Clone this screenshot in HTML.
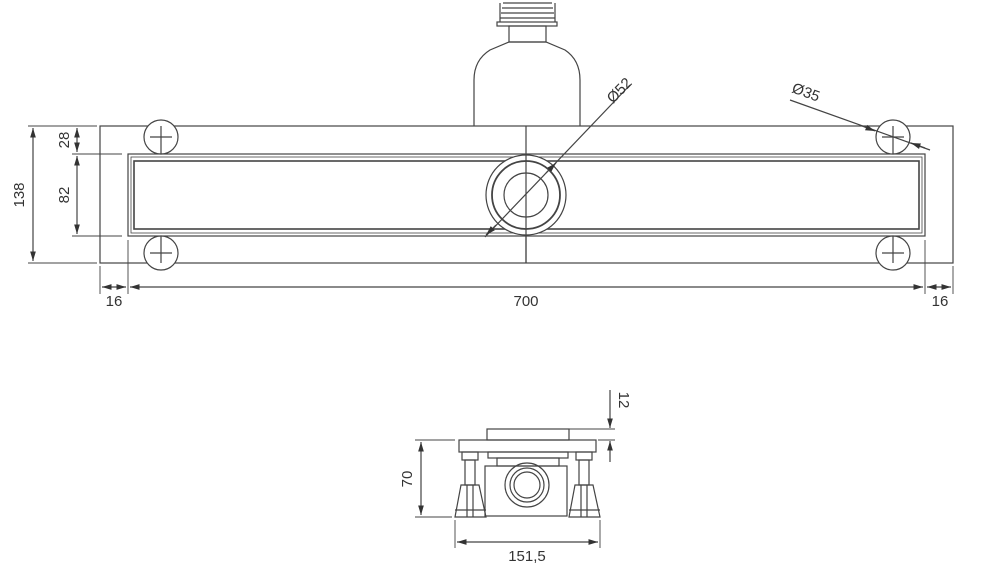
<!DOCTYPE html>
<html><head><style>body{margin:0;background:#fff}svg{display:block}text{font-family:"Liberation Sans",sans-serif;fill:#333}</style></head><body>
<svg width="989" height="582" viewBox="0 0 989 582" xmlns="http://www.w3.org/2000/svg">
<defs><marker id="a" viewBox="0 0 10 10" refX="10" refY="5" markerWidth="8" markerHeight="8" orient="auto-start-reverse"><path d="M0,2L10,5L0,8z" fill="#333"/></marker></defs>
<g stroke="#444" fill="none" stroke-width="1.2">
<!-- bottle -->
<path d="M474,126 V80 Q474,60 490,50 L509,42 H546 L565,50 Q580,60 580,80 V126"/>
<rect x="509" y="26" width="37" height="16"/>
<rect x="497" y="22" width="60" height="4"/>
<path d="M500,18H555M501,13H554M502,8H553M503,3H552M500,22V3M555,22V3"/>
<!-- body -->
<rect x="100" y="126" width="853" height="137"/>
<rect x="128" y="154" width="797" height="82"/>
<rect x="131" y="157" width="791" height="76" stroke-width="0.8"/>
<rect x="134" y="161" width="785" height="68" stroke-width="1.6"/>
<line x1="526" y1="126" x2="526" y2="263"/>
<circle cx="526" cy="195" r="40" fill="#fff"/><circle cx="526" cy="195" r="34" stroke-width="1.8"/><circle cx="526" cy="195" r="22"/>
<line x1="526" y1="155" x2="526" y2="263"/>
<g id="h"><circle cx="161" cy="137" r="17" fill="#fff"/><path d="M150,137H172M161,126V154"/></g>
<circle cx="161" cy="253" r="17" fill="#fff"/><path d="M150,253H172M161,236V263"/>
<circle cx="893" cy="137" r="17" fill="#fff"/><path d="M882,137H904M893,126V154"/>
<circle cx="893" cy="253" r="17" fill="#fff"/><path d="M882,253H904M893,236V263"/>
<!-- dims -->
<path d="M28,126H97M72,154H122M72,236H122M28,263H97M100,266V294M128,240V294M925,240V294M953,266V294" stroke-width="0.9"/>
<line x1="33" y1="128" x2="33" y2="261" marker-start="url(#a)" marker-end="url(#a)"/>
<line x1="77" y1="128" x2="77" y2="152" marker-start="url(#a)" marker-end="url(#a)"/>
<line x1="77" y1="156" x2="77" y2="234" marker-start="url(#a)" marker-end="url(#a)"/>
<line x1="102" y1="287" x2="126" y2="287" marker-start="url(#a)" marker-end="url(#a)"/>
<line x1="130" y1="287" x2="923" y2="287" marker-start="url(#a)" marker-end="url(#a)"/>
<line x1="927" y1="287" x2="951" y2="287" marker-start="url(#a)" marker-end="url(#a)"/>
<line x1="485" y1="237" x2="630" y2="85"/>
<line x1="496" y1="225" x2="486" y2="235" marker-end="url(#a)"/>
<line x1="546" y1="173" x2="556" y2="163" marker-end="url(#a)"/>
<line x1="790" y1="100" x2="930" y2="150"/>
<line x1="862" y1="126" x2="875" y2="131" marker-end="url(#a)"/>
<line x1="925" y1="148" x2="911" y2="143" marker-end="url(#a)"/>
<!-- bottom view -->
<rect x="487" y="429" width="82" height="11"/>
<rect x="459" y="440" width="137" height="12"/>
<rect x="488" y="452" width="80" height="6"/>
<rect x="497" y="458" width="62" height="8"/>
<rect x="485" y="466" width="82" height="50"/>
<circle cx="527" cy="485" r="22"/><circle cx="527" cy="485" r="17"/><circle cx="527" cy="485" r="13"/>
<rect x="462" y="452" width="16" height="8"/><rect x="465" y="460" width="10" height="25"/>
<path d="M461,485H479L486,517H455Z"/><path d="M467,485V517M473,485V517M455,510H486"/>
<rect x="576" y="452" width="16" height="8"/><rect x="579" y="460" width="10" height="25"/>
<path d="M575,485H593L600,517H569Z"/><path d="M581,485V517M587,485V517M569,510H600"/>
<path d="M415,440H455M415,517H452M455,520V548M600,520V548M569,429H615M598,440H615" stroke-width="0.9"/>
<line x1="421" y1="442" x2="421" y2="515" marker-start="url(#a)" marker-end="url(#a)"/>
<line x1="457" y1="542" x2="598" y2="542" marker-start="url(#a)" marker-end="url(#a)"/>
<line x1="610" y1="390" x2="610" y2="428" marker-end="url(#a)"/>
<line x1="610" y1="462" x2="610" y2="441" marker-end="url(#a)"/>
</g>
<g font-size="15">
<text transform="translate(24,195) rotate(-90)" text-anchor="middle">138</text>
<text transform="translate(69,140) rotate(-90)" text-anchor="middle">28</text>
<text transform="translate(69,195) rotate(-90)" text-anchor="middle">82</text>
<text x="114" y="306" text-anchor="middle">16</text>
<text x="526" y="306" text-anchor="middle">700</text>
<text x="940" y="306" text-anchor="middle">16</text>
<text transform="translate(613,104) rotate(-46)">Ø52</text>
<text transform="translate(791,92) rotate(20)">Ø35</text>
<text transform="translate(412,479) rotate(-90)" text-anchor="middle">70</text>
<text transform="translate(619,400) rotate(90)" text-anchor="middle">12</text>
<text x="527" y="561" text-anchor="middle">151,5</text>
</g>
</svg></body></html>
